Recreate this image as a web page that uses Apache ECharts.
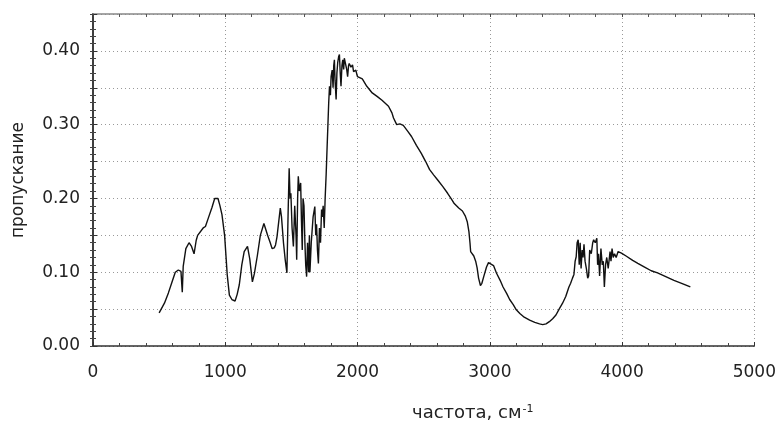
<!DOCTYPE html>
<html>
<head>
<meta charset="utf-8">
<script src="https://cdn.jsdelivr.net/npm/echarts@6/dist/echarts.min.js"></script>
<style>
  html, body { margin: 0; padding: 0; background: #fff; }
  #chart { width: 779px; height: 427px; }
</style>
</head>
<body>
<div id="chart"></div>
<script>
// wavenumber, cm-1
const wavenumber = [
  500, 540, 570, 598, 622, 645, 665, 675, 682, 702, 726, 745, 764, 780, 791, 833, 850, 871, 900, 920,
  945, 960, 975, 995, 1015, 1031, 1050, 1074, 1090, 1106, 1125, 1143, 1168, 1185, 1205, 1220, 1243, 1265, 1292, 1304,
  1320, 1340, 1354, 1370, 1380, 1391, 1405, 1416, 1425, 1440, 1453, 1466, 1475, 1483, 1490, 1496, 1505, 1515, 1525, 1535,
  1540, 1547, 1552, 1560, 1570, 1576, 1582, 1588, 1595, 1602, 1608, 1615, 1622, 1630, 1636, 1640, 1650, 1664, 1677, 1684,
  1690, 1697, 1704, 1712, 1720, 1728, 1734, 1740, 1748, 1755, 1763, 1770, 1776, 1782, 1788, 1795, 1800, 1808, 1815, 1820,
  1825, 1830, 1838, 1844, 1850, 1857, 1863, 1869, 1875, 1882, 1888, 1895, 1900, 1912, 1918, 1925, 1932, 1937, 1950, 1962,
  1970, 1975, 1987, 1995, 2000, 2036, 2070, 2111, 2150, 2185, 2234, 2260, 2272, 2296, 2320, 2346, 2380, 2408, 2445, 2482,
  2515, 2545, 2575, 2606, 2645, 2681, 2710, 2731, 2765, 2793, 2815, 2830, 2842, 2850, 2855, 2866, 2879, 2893, 2904, 2915,
  2929, 2940, 2954, 2975, 2990, 3004, 3028, 3050, 3078, 3100, 3128, 3150, 3177, 3200, 3227, 3260, 3301, 3340, 3376, 3400,
  3425, 3450, 3475, 3500, 3524, 3550, 3574, 3598, 3611, 3625, 3636, 3645, 3653, 3660, 3668, 3676, 3683, 3690, 3698, 3705,
  3712, 3720, 3730, 3740, 3747, 3755, 3767, 3778, 3785, 3797, 3809, 3815, 3822, 3830, 3840, 3850, 3858, 3866, 3875, 3884,
  3895, 3909, 3916, 3924, 3933, 3943, 3955, 3970, 3985, 3995, 4030, 4080, 4119, 4170, 4220, 4268, 4330, 4392, 4450, 4516
];

// пропускание
const transmission = [
  0.045, 0.058, 0.072, 0.087, 0.100, 0.103, 0.101, 0.073, 0.108, 0.132, 0.140, 0.135, 0.125, 0.143, 0.150, 0.160, 0.162, 0.173, 0.188, 0.200,
  0.200, 0.190, 0.178, 0.150, 0.096, 0.069, 0.063, 0.061, 0.070, 0.083, 0.110, 0.128, 0.135, 0.118, 0.087, 0.098, 0.123, 0.150, 0.166, 0.168,
  0.150, 0.140, 0.132, 0.133, 0.137, 0.148, 0.170, 0.187, 0.175, 0.140, 0.117, 0.099, 0.180, 0.241, 0.200, 0.207, 0.160, 0.135, 0.190, 0.150,
  0.117, 0.200, 0.230, 0.210, 0.221, 0.170, 0.130, 0.200, 0.190, 0.140, 0.110, 0.094, 0.140, 0.100, 0.150, 0.100, 0.140, 0.175, 0.189, 0.150,
  0.165, 0.130, 0.112, 0.160, 0.140, 0.185, 0.175, 0.190, 0.160, 0.200, 0.234, 0.270, 0.300, 0.330, 0.352, 0.340, 0.365, 0.374, 0.350, 0.380,
  0.388, 0.360, 0.334, 0.370, 0.384, 0.392, 0.395, 0.370, 0.352, 0.380, 0.388, 0.375, 0.390, 0.390, 0.375, 0.365, 0.380, 0.383, 0.378, 0.381,
  0.372, 0.370, 0.374, 0.368, 0.365, 0.362, 0.352, 0.343, 0.338, 0.333, 0.325, 0.316, 0.309, 0.300, 0.301, 0.299, 0.291, 0.284, 0.272, 0.261,
  0.250, 0.239, 0.232, 0.225, 0.216, 0.207, 0.199, 0.193, 0.187, 0.183, 0.176, 0.168, 0.155, 0.140, 0.128, 0.126, 0.122, 0.115, 0.106, 0.092,
  0.082, 0.085, 0.094, 0.107, 0.113, 0.114, 0.109, 0.099, 0.089, 0.080, 0.071, 0.063, 0.056, 0.049, 0.044, 0.039, 0.035, 0.032, 0.030, 0.029,
  0.030, 0.033, 0.037, 0.042, 0.050, 0.058, 0.067, 0.080, 0.085, 0.092, 0.097, 0.115, 0.121, 0.140, 0.144, 0.110, 0.140, 0.105, 0.130, 0.120,
  0.138, 0.115, 0.105, 0.092, 0.095, 0.130, 0.125, 0.140, 0.144, 0.140, 0.146, 0.110, 0.125, 0.095, 0.132, 0.110, 0.115, 0.080, 0.110, 0.120,
  0.105, 0.128, 0.115, 0.132, 0.120, 0.125, 0.120, 0.128, 0.126, 0.126, 0.122, 0.116, 0.112, 0.107, 0.102, 0.099, 0.094, 0.089, 0.085, 0.080
];

const FONT = '"DejaVu Sans", "Liberation Sans", sans-serif';
const TEXT_COLOR = '#222';
const GRID_LINE = { type: [1, 3], color: '#999', width: 1 };

const chart = echarts.init(document.getElementById('chart'), null, { renderer: 'canvas' });

const frameAxis = {
  axisLine: { show: true, lineStyle: { color: '#444', width: 1.5 } },
  axisTick: { show: true, inside: true, length: 3, lineStyle: { color: '#444' } },
  axisLabel: { show: false },
  splitLine: { show: false }
};

const option = {
  animation: false,
  backgroundColor: '#fff',
  grid: { left: 93, right: 14, top: 14, bottom: 81, containLabel: false },
  xAxis: [
    {
      type: 'value',
      min: 0,
      max: 5000,
      interval: 1000,
      axisLine: { show: true, onZero: false, lineStyle: { color: '#333', width: 1.5 } },
      axisTick: { show: true, inside: true, length: 4, lineStyle: { color: '#333' } },
      minorTick: { show: true, splitNumber: 5, length: 3, lineStyle: { color: '#444' } },
      axisLabel: {
        margin: 18,
        fontFamily: FONT,
        fontSize: 17,
        color: TEXT_COLOR,
        formatter: v => String(v)
      },
      splitLine: { show: true, lineStyle: GRID_LINE }
    },
    Object.assign({ type: 'value', position: 'top', min: 0, max: 5000, interval: 1000 }, frameAxis, {
      axisLine: { show: true, onZero: false, lineStyle: { color: '#888', width: 1.5 } },
      minorTick: { show: true, splitNumber: 5, length: 3, lineStyle: { color: '#555' } }
    })
  ],
  yAxis: [
    {
      type: 'value',
      min: 0,
      max: 0.45,
      interval: 0.05,
      name: 'пропускание',
      nameLocation: 'middle',
      nameGap: 66,
      nameTextStyle: { fontFamily: FONT, fontSize: 17, color: TEXT_COLOR },
      axisLine: { show: true, onZero: false, lineStyle: { color: '#333', width: 2 } },
      axisTick: { show: true, inside: true, length: 4, lineStyle: { color: '#333' } },
      minorTick: { show: true, splitNumber: 5, length: 3, lineStyle: { color: '#444' } },
      axisLabel: {
        margin: 13,
        fontFamily: FONT,
        fontSize: 17,
        color: TEXT_COLOR,
        formatter: function (v) {
          const k = Math.round(v * 100);
          return (k % 10 === 0 && k <= 40) ? v.toFixed(2) : '';
        }
      },
      splitLine: { show: true, lineStyle: GRID_LINE }
    },
    Object.assign({ type: 'value', position: 'right', min: 0, max: 0.45, interval: 0.05 }, frameAxis, {
      minorTick: { show: true, splitNumber: 5, length: 3, lineStyle: { color: '#444' } }
    })
  ],
  graphic: [
    {
      type: 'text',
      left: 412,
      top: 404,
      style: {
        text: 'частота, см{sup|-1}',
        fontFamily: FONT,
        fontSize: 18,
        fill: TEXT_COLOR,
        rich: {
          sup: { fontFamily: FONT, fontSize: 11, fill: TEXT_COLOR, verticalAlign: 'top', padding: [0, 0, 8, 1] }
        }
      }
    }
  ],
  series: [
    {
      type: 'line',
      xAxisIndex: 0,
      yAxisIndex: 0,
      showSymbol: false,
      symbol: 'none',
      data: wavenumber.map((x, i) => [x, transmission[i]]),
      lineStyle: { color: '#111', width: 1.4 }
    }
  ]
};

chart.setOption(option);
</script>
</body>
</html>
